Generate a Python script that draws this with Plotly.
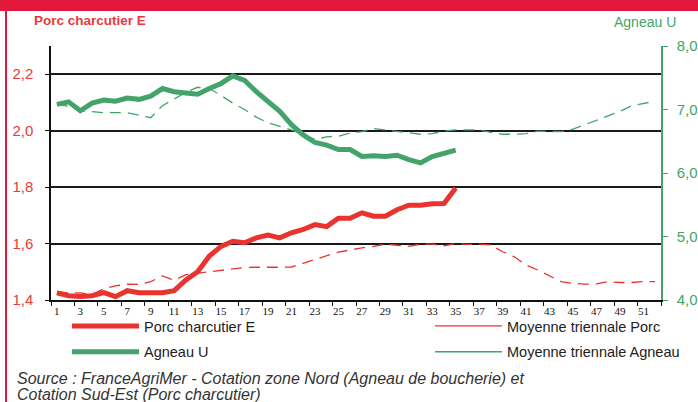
import plotly.graph_objects as go

# ---------------- data ----------------
weeks = list(range(1, 53))
porc_weeks = list(range(1, 36))
porc = [1.425, 1.415, 1.412, 1.415, 1.426, 1.412, 1.433, 1.426, 1.426, 1.426,
        1.433, 1.471, 1.500, 1.556, 1.590, 1.608, 1.603, 1.620, 1.630, 1.620,
        1.638, 1.650, 1.667, 1.660, 1.690, 1.690, 1.709, 1.697, 1.697, 1.720,
        1.736, 1.736, 1.741, 1.742, 1.797]
porc_moy = [1.430, 1.425, 1.425, 1.420, 1.440, 1.450, 1.456, 1.455, 1.465, 1.485,
            1.470, 1.490, 1.495, 1.500, 1.505, 1.510, 1.515, 1.516, 1.515, 1.516,
            1.517, 1.530, 1.544, 1.556, 1.570, 1.577, 1.585, 1.590, 1.598, 1.594,
            1.590, 1.598, 1.598, 1.592, 1.600, 1.597, 1.598, 1.595, 1.571, 1.553,
            1.524, 1.506, 1.485, 1.465, 1.459, 1.456, 1.457, 1.465, 1.462, 1.462,
            1.465, 1.465]
agneau_weeks = list(range(1, 36))
agneau = [7.08, 7.12, 6.98, 7.10, 7.15, 7.13, 7.18, 7.16, 7.21, 7.33,
          7.28, 7.26, 7.24, 7.33, 7.41, 7.53, 7.46, 7.28, 7.12, 6.97,
          6.76, 6.60, 6.48, 6.44, 6.37, 6.37, 6.26, 6.27, 6.26, 6.28,
          6.21, 6.16, 6.26, 6.31, 6.36]
agneau_moy = [7.08, 7.05, 6.98, 6.96, 6.95, 6.95, 6.95, 6.91, 6.87, 7.06,
              7.17, 7.27, 7.35, 7.33, 7.22, 7.10, 7.00, 6.88, 6.79, 6.74,
              6.68, 6.60, 6.53, 6.57, 6.58, 6.63, 6.65, 6.70, 6.68, 6.65,
              6.64, 6.61, 6.62, 6.66, 6.68, 6.68, 6.68, 6.64, 6.61, 6.61,
              6.62, 6.66, 6.66, 6.65, 6.69, 6.76, 6.82, 6.89, 6.97, 7.06,
              7.10, 7.13]

x_tick_vals = list(range(1, 53, 2))
x_tick_labels = [str(w) for w in x_tick_vals]
left_ticks = [1.4, 1.6, 1.8, 2.0, 2.2]
right_ticks = [4, 5, 6, 7, 8]

names = ["Porc charcutier E", "Moyenne triennale Porc",
         "Agneau U", "Moyenne triennale Agneau"]

# ---------------- style ----------------
RED = "#e8332f"
RED_TXT = "#e8393d"
GREEN = "#42a46b"
BAR = "#e2183d"
SANS = "Liberation Sans, Arial, sans-serif"
SERIF = "Liberation Serif, Times New Roman, serif"

L, R, T, B = 51, 37, 46, 102
W, H = 698, 402
PW, PH = W - L - R, H - T - B


def px(x):
    return (x - L) / PW


def py(y):
    return (H - B - y) / PH


fig = go.Figure()

# dashed 3-year averages (legend shown via solid dummies)
fig.add_trace(go.Scatter(x=weeks, y=porc_moy, mode="lines", yaxis="y",
                         line=dict(color=RED, width=1.3, dash="11px,7px"),
                         showlegend=False, hoverinfo="skip"))
fig.add_trace(go.Scatter(x=weeks, y=agneau_moy, mode="lines", yaxis="y2",
                         line=dict(color=GREEN, width=1.3, dash="11px,7px"),
                         showlegend=False, hoverinfo="skip"))
# solid series
fig.add_trace(go.Scatter(x=porc_weeks, y=porc, mode="lines", yaxis="y",
                         name=names[0], legend="legend", legendgroup="a",
                         line=dict(color=RED, width=5)))
fig.add_trace(go.Scatter(x=agneau_weeks, y=agneau, mode="lines", yaxis="y2",
                         name=names[2], legend="legend", legendgroup="b",
                         line=dict(color=GREEN, width=5)))
# legend entries for averages
fig.add_trace(go.Scatter(x=[None], y=[None], mode="lines", yaxis="y",
                         name=names[1], legend="legend2", legendgroup="c",
                         line=dict(color=RED, width=1.3)))
fig.add_trace(go.Scatter(x=[None], y=[None], mode="lines", yaxis="y2",
                         name=names[3], legend="legend2", legendgroup="d",
                         line=dict(color=GREEN, width=1.3)))

legend_common = dict(orientation="v", xanchor="left", yanchor="top",
                     font=dict(family=SANS, size=14.5, color="#222"),
                     bgcolor="rgba(0,0,0,0)", traceorder="grouped",
                     tracegroupgap=4, itemwidth=67)

fig.update_layout(
    width=W, height=H,
    margin=dict(l=L, r=R, t=T, b=B, autoexpand=False),
    paper_bgcolor="white", plot_bgcolor="white",
    separators=", ",
    showlegend=True,
    legend=dict(x=px(67), y=py(310), **legend_common),
    legend2=dict(x=px(430), y=py(310), **legend_common),
    xaxis=dict(range=[0.5, 52.5], tickmode="array", tickvals=x_tick_vals,
               ticktext=x_tick_labels, ticks="", showgrid=False, zeroline=False,
               showline=True, linecolor="#111", linewidth=1.5, automargin=False,
               tickfont=dict(family=SERIF, size=11, color="#111"),
               minor=dict(tickmode="linear", tick0=0.5, dtick=2, ticks="outside",
                          ticklen=4, tickcolor="#111", tickwidth=1.2, showgrid=False)),
    yaxis=dict(range=[1.4, 2.3], tickmode="array", tickvals=left_ticks,
               tickformat=".1f", ticks="outside", ticklen=4, tickcolor="#111",
               ticklabelstandoff=9,
               showline=True, linecolor="#111", linewidth=1.5, automargin=False,
               showgrid=True, gridcolor="#1a1a1a", gridwidth=1.6, zeroline=False,
               tickfont=dict(family=SANS, size=15, color=RED_TXT)),
    yaxis2=dict(range=[4, 8], overlaying="y", side="right", tickmode="array",
                tickvals=right_ticks, tickformat=".1f", ticks="outside",
                ticklen=5, tickcolor=GREEN, tickwidth=1.3, automargin=False,
                ticklabelstandoff=6,
                showline=True, linecolor=GREEN, linewidth=1.5,
                showgrid=False, zeroline=False,
                tickfont=dict(family=SANS, size=15, color=GREEN)),
    shapes=[
        dict(type="rect", xref="paper", yref="paper", x0=px(0), x1=px(W),
             y0=py(11), y1=py(0), fillcolor=BAR, line=dict(width=0), layer="above"),
        dict(type="line", xref="paper", yref="paper", x0=px(6), x1=px(6),
             y0=py(H), y1=py(0), line=dict(color=BAR, width=2)),
    ],
    annotations=[
        dict(text="<b>Porc charcutier E</b>", xref="paper", yref="paper",
             x=px(32), y=py(21), xanchor="left", yanchor="middle", showarrow=False,
             font=dict(family=SANS, size=13.5, color=RED_TXT)),
        dict(text="Agneau U", xref="paper", yref="paper",
             x=px(645), y=py(22), xanchor="center", yanchor="middle", showarrow=False,
             font=dict(family=SANS, size=14, color=GREEN)),
        dict(text="<i>Source : FranceAgriMer - Cotation zone Nord (Agneau de boucherie) et</i>",
             xref="paper", yref="paper", x=px(15), y=py(378), xanchor="left",
             yanchor="middle", showarrow=False,
             font=dict(family=SANS, size=16, color="#333")),
        dict(text="<i>Cotation Sud-Est (Porc charcutier)</i>",
             xref="paper", yref="paper", x=px(15), y=py(394), xanchor="left",
             yanchor="middle", showarrow=False,
             font=dict(family=SANS, size=16, color="#333")),
    ],
)

fig.write_html("out.html", config={"displayModeBar": False},
               post_script="document.body.style.margin='0';document.body.style.overflow='hidden';")
